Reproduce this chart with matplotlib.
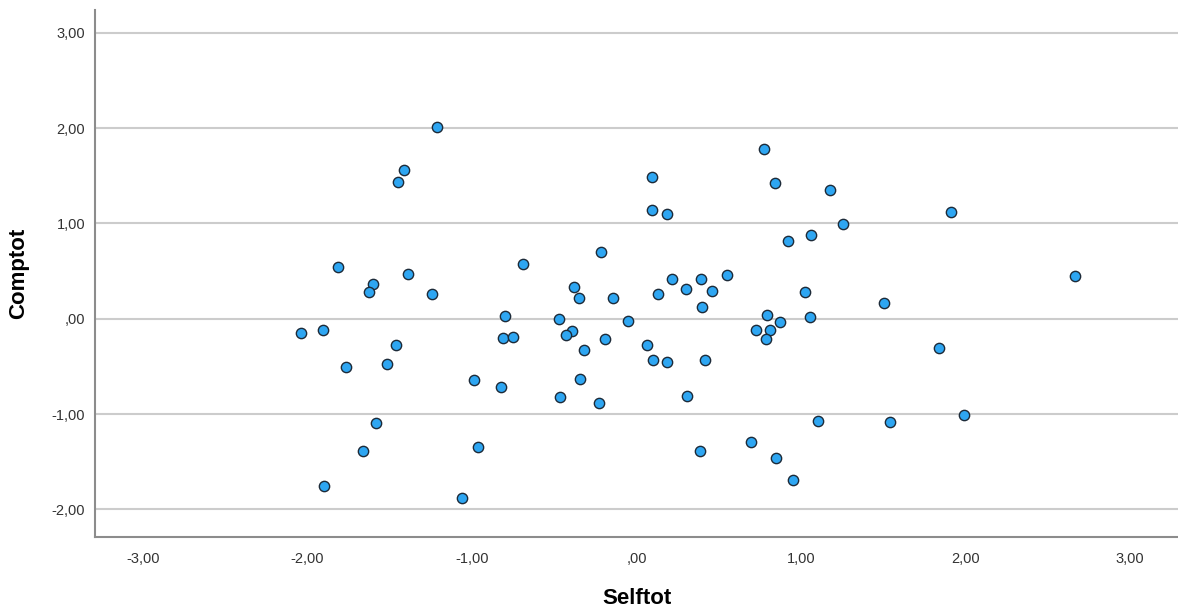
import matplotlib
matplotlib.use('Agg')
import matplotlib.pyplot as plt
import numpy as np

plt.rcParams['font.family'] = ['Liberation Sans', 'DejaVu Sans']

# Selftot (x) and Comptot (y)
selftot = [-2.04, -1.905, -1.815, -1.60, -1.627, -1.763, -1.513, -1.459, -1.58, -1.66,
           -1.90, -1.449, -1.41, -1.21, -1.39, -1.244, -0.69, -0.218, -0.378, -0.35,
           -0.145, -0.797, -0.469, -0.052, -0.811, -0.749, -0.39, -0.427, -0.194, -0.321,
           -0.989, -0.825, -0.344, -0.465, -0.23, -0.965, -1.062,
           0.095, 0.093, 0.185, 0.774, 0.844, 1.176, 1.909, 1.255, 1.059, 0.921,
           0.547, 0.213, 0.389, 0.302, 0.458, 0.128, 1.025, 0.399, 1.502, 0.79,
           1.055, 0.871, 0.729, 0.812, 0.788, 0.061, 0.098, 0.183, 0.419, 1.84,
           0.304, 1.101, 1.54, 1.992, 0.383, 0.695, 0.846, 0.948, 2.666]
comptot = [-0.145, -0.115, 0.54, 0.365, 0.28, -0.51, -0.477, -0.275, -1.094, -1.39,
           -1.76, 1.435, 1.56, 2.01, 0.47, 0.26, 0.57, 0.70, 0.33, 0.22,
           0.22, 0.024, 0.0, -0.02, -0.206, -0.19, -0.125, -0.174, -0.209, -0.331,
           -0.641, -0.711, -0.627, -0.819, -0.882, -1.35, -1.885,
           1.49, 1.146, 1.10, 1.777, 1.42, 1.35, 1.115, 0.993, 0.878, 0.815,
           0.463, 0.415, 0.418, 0.314, 0.289, 0.26, 0.279, 0.125, 0.164, 0.038,
           0.017, -0.038, -0.122, -0.122, -0.213, -0.275, -0.432, -0.453, -0.436, -0.307,
           -0.808, -1.077, -1.084, -1.014, -1.387, -1.296, -1.456, -1.693, 0.444]

xticks = [-3, -2, -1, 0, 1, 2, 3]
xticklabels = ['-3,00', '-2,00', '-1,00', ',00', '1,00', '2,00', '3,00']
yticks = [-2, -1, 0, 1, 2, 3]
yticklabels = ['-2,00', '-1,00', ',00', '1,00', '2,00', '3,00']

fig = plt.figure(figsize=(11.78, 6.08), dpi=100)
ax = fig.add_axes([0.0806, 0.1168, 0.9194, 0.8668])

ax.scatter(selftot, comptot, s=55, color='#2ea6f2', edgecolors='#1c2a38',
           linewidths=1.0, zorder=3)

ax.set_xlim(-3.29, 3.29)
ax.set_ylim(-2.29, 3.24)
ax.set_xticks(xticks)
ax.set_xticklabels(xticklabels)
ax.set_yticks(yticks)
ax.set_yticklabels(yticklabels)
ax.tick_params(length=0, labelsize=10.5, colors='#333333')
ax.tick_params(axis='x', pad=11)
ax.tick_params(axis='y', pad=7)

ax.grid(axis='y', color='#cccccc', linewidth=1.5, zorder=0)
ax.set_axisbelow(True)
for s in ['top', 'right']:
    ax.spines[s].set_visible(False)
for s in ['left', 'bottom']:
    ax.spines[s].set_color('#8c8c8c')
    ax.spines[s].set_linewidth(1.5)

ax.set_xlabel('Selftot', fontsize=16, fontweight='bold', labelpad=16)
ax.set_ylabel('Comptot', fontsize=16, fontweight='bold', labelpad=16)

fig.savefig('out.png', dpi=100)
